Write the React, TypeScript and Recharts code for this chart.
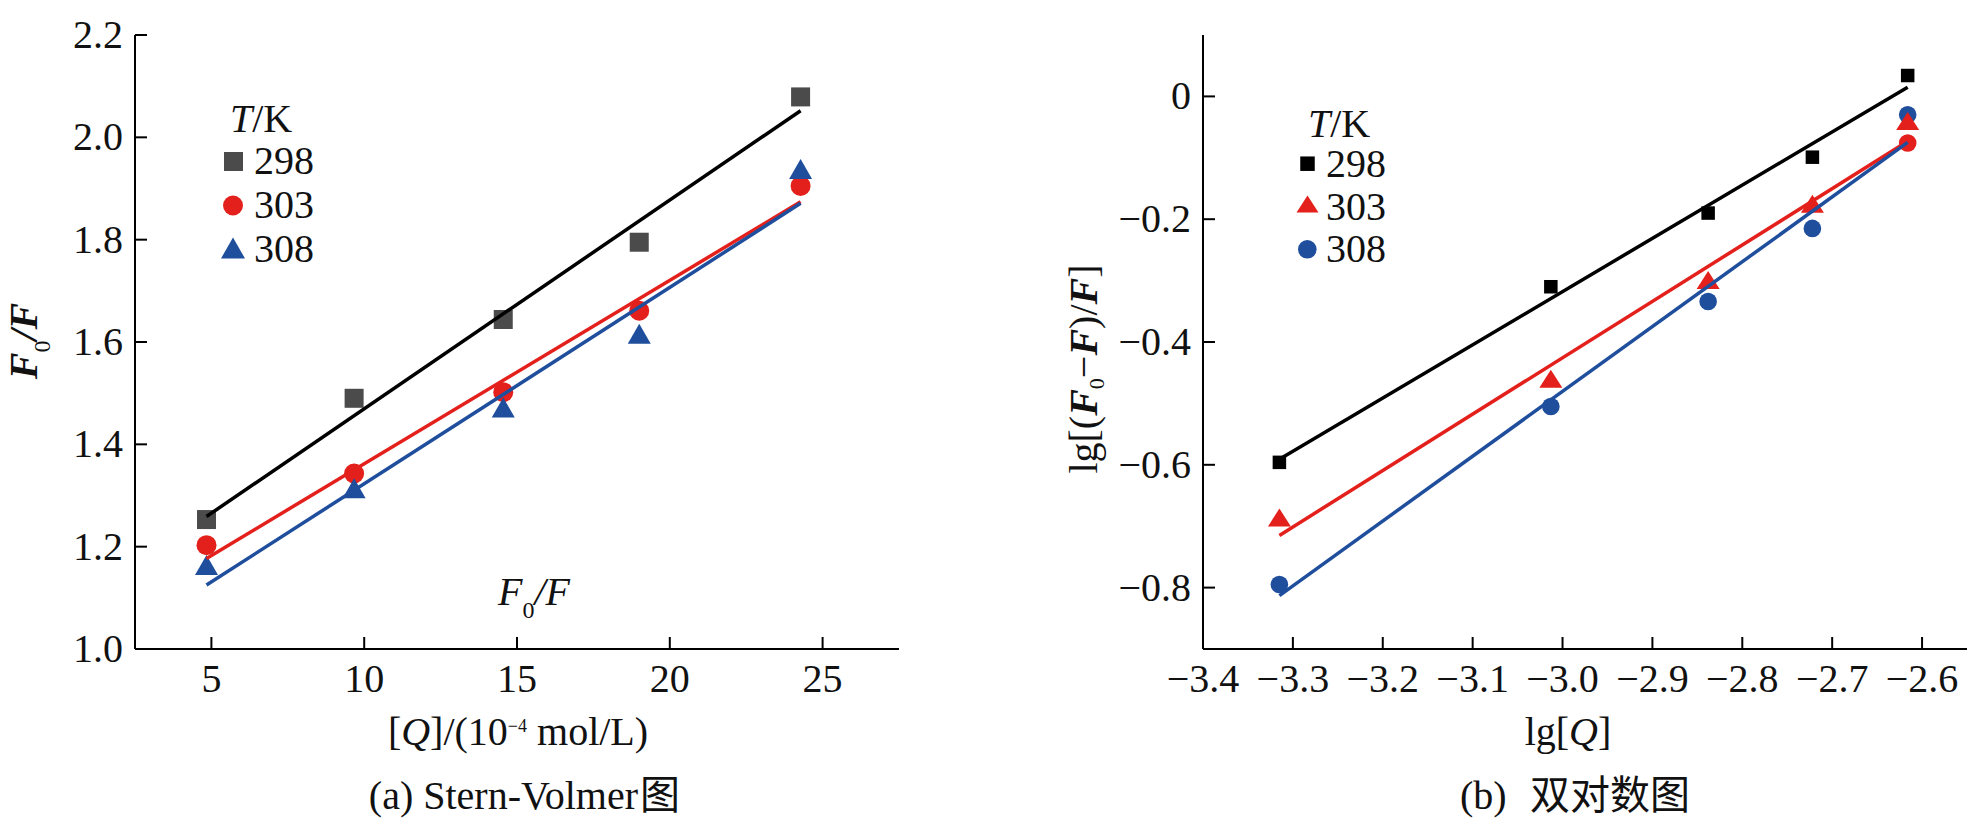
import React from "react";
import { ScatterChart, Scatter, XAxis, YAxis, Customized } from "recharts";

// ────────────────────────────────────────────────────────────
// Shared look
// ────────────────────────────────────────────────────────────

const SERIF = "'Liberation Serif', 'Times New Roman', serif";
const CJK = "'Noto Sans CJK SC', sans-serif";
const INK = "#111111";
const GREY = "#4b4b4b";
const RED = "#e3201b";
const BLUE = "#1f4e9d";
const FONT = 40;
const TICK_LEN = 12;
const Y_TICK_GAP = 12;
const X_TICK_GAP = 30;

// ────────────────────────────────────────────────────────────
// (a) Stern-Volmer data
// ────────────────────────────────────────────────────────────

const SV_Q = [4.84, 9.67, 14.55, 19.0, 24.28];
const SV_298 = [1.253, 1.49, 1.644, 1.795, 2.079];
const SV_303 = [1.203, 1.343, 1.502, 1.661, 1.905];
const SV_308 = [1.164, 1.314, 1.472, 1.616, 1.938];
const SV_FIT_Q = [4.84, 24.28];
const SV_FIT_298 = [1.259, 2.052];
const SV_FIT_303 = [1.177, 1.874];
const SV_FIT_308 = [1.125, 1.871];
const SV_X_TICKS = [5, 10, 15, 20, 25];
const SV_Y_TICKS = [1.0, 1.2, 1.4, 1.6, 1.8, 2.0, 2.2];

// ────────────────────────────────────────────────────────────
// (b) double-log data
// ────────────────────────────────────────────────────────────

const LG_Q = [-3.315, -3.013, -2.838, -2.722, -2.616];
const LG_298 = [-0.596, -0.31, -0.19, -0.099, 0.034];
const LG_303 = [-0.686, -0.46, -0.299, -0.175, -0.04];
const LG_308 = [-0.795, -0.505, -0.334, -0.215, -0.03];
// stray red dot under the last point in the source figure
const LG_STRAY_Q = [-2.616];
const LG_STRAY = [-0.076];
const LG_FIT_Q = [-3.315, -2.616];
const LG_FIT_298 = [-0.591, 0.015];
const LG_FIT_303 = [-0.715, -0.073];
const LG_FIT_308 = [-0.813, -0.075];
const LG_X_TICKS = [-3.4, -3.3, -3.2, -3.1, -3.0, -2.9, -2.8, -2.7, -2.6];
const LG_Y_TICKS = [-0.8, -0.6, -0.4, -0.2, 0];

const zip = (xs: number[], ys: number[]) => xs.map((x, i) => ({ x, y: ys[i] }));

// ────────────────────────────────────────────────────────────
// Markers
// ────────────────────────────────────────────────────────────

type Kind = "square" | "circle" | "triangle";

function Glyph({ kind, cx, cy, w, h, fill }: { kind: Kind; cx: number; cy: number; w: number; h?: number; fill: string }) {
  if (kind === "square") return <rect x={cx - w / 2} y={cy - w / 2} width={w} height={w} fill={fill} />;
  if (kind === "circle") return <circle cx={cx} cy={cy} r={w / 2} fill={fill} />;
  const hh = h ?? w;
  return (
    <polygon
      points={`${cx},${cy - hh / 2} ${cx + w / 2},${cy + hh / 2} ${cx - w / 2},${cy + hh / 2}`}
      fill={fill}
    />
  );
}

const marker = (kind: Kind, fill: string, w: number, h?: number) => (p: any) =>
  p.cx == null ? <g /> : <Glyph kind={kind} cx={p.cx} cy={p.cy} w={w} h={h} fill={fill} />;

const noDot = () => <g />;

// ────────────────────────────────────────────────────────────
// Text helpers
// ────────────────────────────────────────────────────────────

const serif = { fontFamily: SERIF };
const cjk = { fontFamily: CJK };

function Num({ x, y, anchor, children }: any) {
  return (
    <text x={x} y={y} textAnchor={anchor} fontSize={FONT} fill={INK} xmlLang="en" lang="en" style={serif}>
      {children}
    </text>
  );
}

const fmtPlain = (v: number) => String(v);
const fmtOne = (v: number) => v.toFixed(1);
const fmtMinus = (v: number) => (Math.abs(v) < 1e-9 ? "0" : (v < 0 ? "\u2212" : "") + Math.abs(v).toFixed(1));

const yTick = (fmt: (v: number) => string) => (p: any) => (
  <g>
    <line x1={p.x + Y_TICK_GAP} y1={p.y} x2={p.x + Y_TICK_GAP + TICK_LEN} y2={p.y} stroke="#000" strokeWidth={2} />
    <Num x={p.x} y={p.y + 13} anchor="end">{fmt(p.payload.value)}</Num>
  </g>
);

const xTick = (fmt: (v: number) => string) => (p: any) => (
  <g>
    <line x1={p.x} y1={p.y - X_TICK_GAP} x2={p.x} y2={p.y - X_TICK_GAP - TICK_LEN} stroke="#000" strokeWidth={2} />
    <Num x={p.x} y={p.y + 13} anchor="middle">{fmt(p.payload.value)}</Num>
  </g>
);

const AXIS_LINE = { stroke: "#000", strokeWidth: 2 };

// ────────────────────────────────────────────────────────────
// Panel texts
// ────────────────────────────────────────────────────────────

function SternVolmerText() {
  return (
    <g fill={INK}>
      <text x={230} y={132} fontSize={FONT} style={serif} xmlLang="en">
        <tspan fontStyle="italic">T</tspan>/K
      </text>
      <Glyph kind="square" cx={233.5} cy={161.5} w={19} fill={GREY} />
      <Num x={254} y={174}>298</Num>
      <Glyph kind="circle" cx={233} cy={205.5} w={20} fill={RED} />
      <Num x={254} y={217.5}>303</Num>
      <Glyph kind="triangle" cx={233} cy={248} w={24} h={21} fill={BLUE} />
      <Num x={254} y={262}>308</Num>

      <text x={498} y={605} fontSize={FONT} fontStyle="italic" style={serif} xmlLang="en">
        F<tspan fontSize={24} dy={13} fontStyle="normal">0</tspan>
        <tspan dy={-13}>/F</tspan>
      </text>

      <text transform="translate(37,341) rotate(-90)" textAnchor="middle" fontSize={FONT} fontStyle="italic" fontWeight="bold" style={serif} xmlLang="en">
        F<tspan fontSize={24} dy={13} fontStyle="normal" fontWeight="normal">0</tspan>
        <tspan dy={-13}>/F</tspan>
      </text>

      <text x={518} y={745} textAnchor="middle" fontSize={FONT} style={serif} xmlLang="en">
        [<tspan fontStyle="italic">Q</tspan>]/(10<tspan fontSize={18} dy={-13}>{"\u22124"}</tspan>
        <tspan dy={13}> mol/L)</tspan>
      </text>

      <text x={638} y={809} textAnchor="end" fontSize={FONT} style={serif} xmlLang="en" lang="en">
        (a) Stern-Volmer
      </text>
      <text x={640} y={809} fontSize={FONT} style={cjk} xmlLang="zh-CN" lang="zh-CN">
        图
      </text>
    </g>
  );
}

function DoubleLogText() {
  return (
    <g fill={INK}>
      <text x={348} y={137} fontSize={FONT} style={serif} xmlLang="en">
        <tspan fontStyle="italic">T</tspan>/K
      </text>
      <Glyph kind="square" cx={347.5} cy={163.7} w={14.5} fill="#000" />
      <Num x={366} y={176.5}>298</Num>
      <Glyph kind="triangle" cx={347.5} cy={204} w={22} h={17} fill={RED} />
      <Num x={366} y={219.5}>303</Num>
      <Glyph kind="circle" cx={347.3} cy={249.3} w={18.6} fill={BLUE} />
      <Num x={366} y={262}>308</Num>

      <text transform="translate(137,369) rotate(-90)" textAnchor="middle" fontSize={FONT} style={serif} xmlLang="en">
        lg[(<tspan fontStyle="italic" fontWeight="bold">F</tspan>
        <tspan fontSize={22} dy={7}>0</tspan>
        <tspan dy={-7}>{"\u2212"}</tspan>
        <tspan fontStyle="italic" fontWeight="bold">F</tspan>)/
        <tspan fontStyle="italic" fontWeight="bold">F</tspan>]
      </text>

      <text x={608} y={745} textAnchor="middle" fontSize={FONT} style={serif} xmlLang="en">
        lg[<tspan fontStyle="italic">Q</tspan>]
      </text>

      <text x={500} y={809} fontSize={FONT} style={serif} xmlLang="en" lang="en">
        (b)
      </text>
      <text x={570} y={809} fontSize={FONT} style={cjk} xmlLang="zh-CN" lang="zh-CN">
        双对数图
      </text>
    </g>
  );
}

// ────────────────────────────────────────────────────────────
// Charts
// ────────────────────────────────────────────────────────────

function SternVolmerChart() {
  return (
    <ScatterChart width={960} height={827} margin={{ top: 35, right: 61, bottom: 118, left: 0 }}>
      <XAxis
        type="number"
        dataKey="x"
        domain={[2.5, 27.5]}
        ticks={SV_X_TICKS}
        interval={0}
        allowDataOverflow
        height={60}
        axisLine={AXIS_LINE}
        tickLine={false}
        tickSize={0}
        tickMargin={X_TICK_GAP}
        tick={xTick(fmtPlain)}
      />
      <YAxis
        type="number"
        dataKey="y"
        domain={[1.0, 2.2]}
        ticks={SV_Y_TICKS}
        interval={0}
        allowDataOverflow
        width={135}
        axisLine={AXIS_LINE}
        tickLine={false}
        tickSize={0}
        tickMargin={Y_TICK_GAP}
        tick={yTick(fmtOne)}
      />

      <Scatter data={zip(SV_Q, SV_298)} fill={GREY} shape={marker("square", GREY, 19)} isAnimationActive={false} />
      <Scatter data={zip(SV_Q, SV_303)} fill={RED} shape={marker("circle", RED, 20)} isAnimationActive={false} />
      <Scatter data={zip(SV_Q, SV_308)} fill={BLUE} shape={marker("triangle", BLUE, 23, 20)} isAnimationActive={false} />

      <Scatter data={zip(SV_FIT_Q, SV_FIT_298)} fill="#000" line={{ stroke: "#000", strokeWidth: 3.5 }} shape={noDot} isAnimationActive={false} />
      <Scatter data={zip(SV_FIT_Q, SV_FIT_303)} fill={RED} line={{ stroke: RED, strokeWidth: 3.5 }} shape={noDot} isAnimationActive={false} />
      <Scatter data={zip(SV_FIT_Q, SV_FIT_308)} fill={BLUE} line={{ stroke: BLUE, strokeWidth: 3.5 }} shape={noDot} isAnimationActive={false} />

      <Customized component={<SternVolmerText />} />
    </ScatterChart>
  );
}

function DoubleLogChart() {
  return (
    <ScatterChart width={1009} height={827} margin={{ top: 35, right: 2, bottom: 118, left: 0 }}>
      <XAxis
        type="number"
        dataKey="x"
        domain={[-3.4, -2.55]}
        ticks={LG_X_TICKS}
        interval={0}
        allowDataOverflow
        height={60}
        axisLine={AXIS_LINE}
        tickLine={false}
        tickSize={0}
        tickMargin={X_TICK_GAP}
        tick={xTick(fmtMinus)}
      />
      <YAxis
        type="number"
        dataKey="y"
        domain={[-0.9, 0.1]}
        ticks={LG_Y_TICKS}
        interval={0}
        allowDataOverflow
        width={243}
        axisLine={AXIS_LINE}
        tickLine={false}
        tickSize={0}
        tickMargin={Y_TICK_GAP}
        tick={yTick(fmtMinus)}
      />

      <Scatter data={zip(LG_Q, LG_308)} fill={BLUE} shape={marker("circle", BLUE, 17.6)} isAnimationActive={false} />
      <Scatter data={zip(LG_Q, LG_303)} fill={RED} shape={marker("triangle", RED, 23, 18)} isAnimationActive={false} />
      <Scatter data={zip(LG_STRAY_Q, LG_STRAY)} fill={RED} shape={marker("circle", RED, 17.6)} isAnimationActive={false} />
      <Scatter data={zip(LG_Q, LG_298)} fill="#000" shape={marker("square", "#000", 13.5)} isAnimationActive={false} />

      <Scatter data={zip(LG_FIT_Q, LG_FIT_298)} fill="#000" line={{ stroke: "#000", strokeWidth: 3.5 }} shape={noDot} isAnimationActive={false} />
      <Scatter data={zip(LG_FIT_Q, LG_FIT_303)} fill={RED} line={{ stroke: RED, strokeWidth: 3.5 }} shape={noDot} isAnimationActive={false} />
      <Scatter data={zip(LG_FIT_Q, LG_FIT_308)} fill={BLUE} line={{ stroke: BLUE, strokeWidth: 3.5 }} shape={noDot} isAnimationActive={false} />

      <Customized component={<DoubleLogText />} />
    </ScatterChart>
  );
}

export default function App() {
  return (
    <div lang="en" style={{ position: "absolute", left: 0, top: 0, width: 1969, height: 827, background: "#fff" }}>
      <div style={{ position: "absolute", left: 0, top: 0 }}>
        <SternVolmerChart />
      </div>
      <div style={{ position: "absolute", left: 960, top: 0 }}>
        <DoubleLogChart />
      </div>
    </div>
  );
}
